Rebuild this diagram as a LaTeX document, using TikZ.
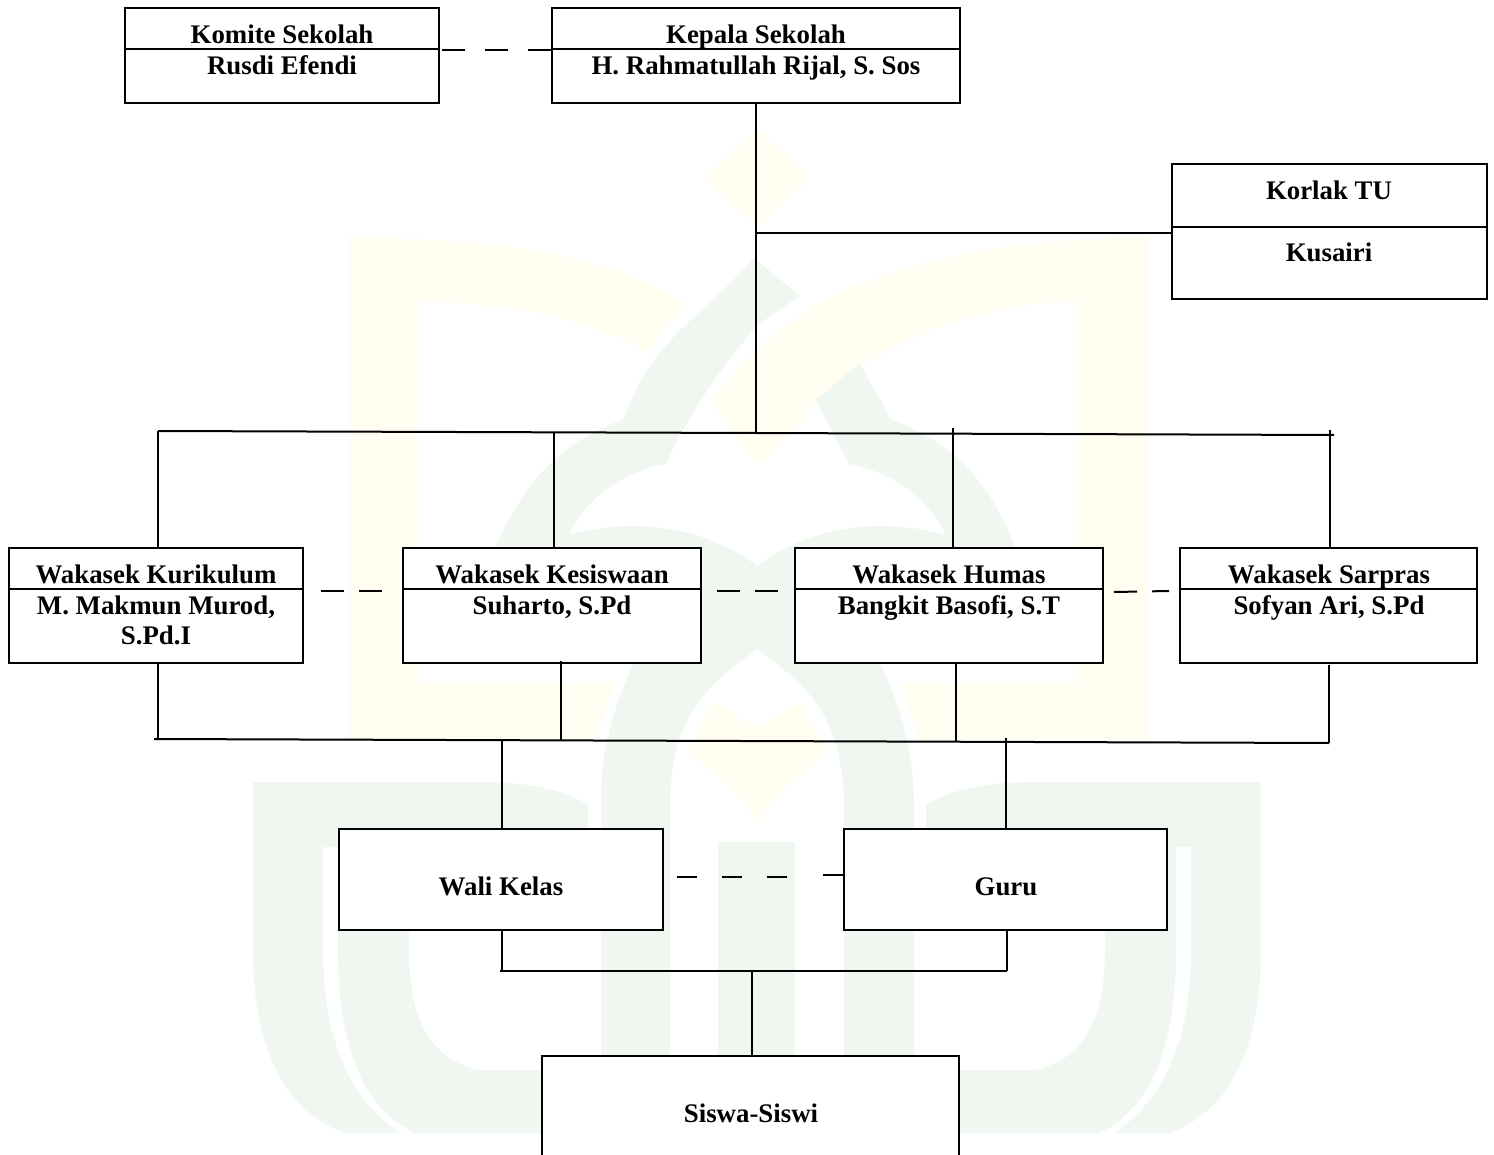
\documentclass[tikz,border=0pt]{standalone}
\usepackage{fontspec}
\setmainfont{Liberation Serif}
\definecolor{wmyellow}{HTML}{FFFEF0}
\definecolor{wmgreen}{HTML}{F0F7F1}
\tikzset{
  boxnode/.style={draw=black,fill=white,line width=1.05pt,inner sep=0pt,outer sep=0pt},
  txt/.style={anchor=base,inner sep=0pt,outer sep=0pt,font=\fontsize{13.42}{16}\selectfont\bfseries},
  conn/.style={draw=black,line width=1pt},
  dashconn/.style={draw=black,line width=1pt,dash pattern=on 11.5pt off 10pt},
  dashwaka/.style={draw=black,line width=1pt,dash pattern=on 11.5pt off 7.5pt},
  dashwali/.style={draw=black,line width=1pt,dash pattern=on 10pt off 12.5pt},
  divider/.style={draw=black,line width=1.05pt}
}
\newcommand{\wbox}[5]{%
  \pgfmathsetmacro{\wbw}{(#4-#2)*0.5}%
  \pgfmathsetmacro{\wbh}{(#5-#3)*0.5}%
  \node[boxnode,minimum width=\wbw pt,minimum height=\wbh pt] (#1) at ({(#2+#4)/2},{(#3+#5)/2}) {};%
}
\begin{document}
\begin{tikzpicture}[x=0.5pt,y=-0.5pt]
\useasboundingbox (0,0) rectangle (1494,1155);
\clip (0,0) rectangle (1494,1155);
\fill[white] (0,0) rectangle (1494,1155);
% watermark: yellow
\fill[wmyellow] (757,129) -- (810,178) -- (757,227) -- (704,178) -- cycle;
\fill[wmyellow] (349,238) .. controls (480,238) and (600,250) .. (685,303) -- (647,352)
  .. controls (580,315) and (500,302) .. (418,302) -- (418,683) -- (614,683) -- (595,740) -- (349,740) -- cycle;
\fill[wmyellow] (1147,238) .. controls (980,238) and (800,270) .. (712,401) -- (757,465) -- (800,425)
  .. controls (820,380) and (940,302) .. (1078,302) -- (1078,683) -- (900,683) -- (920,740) -- (1147,740) -- cycle;
\fill[wmyellow] (712,702) -- (757,727) -- (800,702) -- (828,753) .. controls (790,780) and (770,800) .. (757,823)
  .. controls (745,800) and (725,780) .. (687,753) -- cycle;
% watermark: green arches
\fill[wmgreen] (754,258) -- (800,296) -- (757,325) .. controls (720,370) and (690,410) .. (666,464)
  .. controls (620,472) and (585,500) .. (569,535) .. controls (640,515) and (710,530) .. (757,566)
  -- (757,649) .. controls (700,690) and (673,720) .. (670,800) -- (670,1133) -- (601,1133) -- (601,800)
  .. controls (601,740) and (620,690) .. (640,650) -- (497,600) -- (497,544)
  .. controls (530,470) and (570,440) .. (624,419) .. controls (650,340) and (700,320) .. (754,258) -- cycle;
\fill[wmgreen] (860,363) -- (816,400) -- (849,464) .. controls (894,472) and (929,500) .. (946,535)
  .. controls (874,515) and (804,530) .. (757,566) -- (757,649) .. controls (814,690) and (841,720) .. (844,800)
  -- (844,1133) -- (914,1133) -- (914,800) .. controls (913,740) and (894,690) .. (874,650) -- (1017,600) -- (1014,544)
  .. controls (984,470) and (944,440) .. (890,419) .. controls (880,395) and (870,385) .. (860,363) -- cycle;
\fill[wmgreen] (718,842) rectangle (795,1133);
% watermark: green U bands
\foreach \sh/\sc in {0/1,1514/-1}{
\begin{scope}[shift={(\sh,0)},xscale=\sc]
\fill[wmgreen] (253,782) -- (478,782) .. controls (530,782) and (565,790) .. (588,805) -- (588,847) -- (323,847)
  -- (323,950) .. controls (323,1040) and (350,1100) .. (400,1133) -- (345,1133) .. controls (280,1110) and (253,1040) .. (253,950) -- cycle;
\fill[wmgreen] (338,847) -- (338,950) .. controls (338,1050) and (365,1110) .. (415,1133) -- (601,1133) -- (601,1070) -- (480,1070)
  .. controls (430,1060) and (409,1020) .. (409,950) -- (409,847) -- cycle;
\end{scope}}
% boxes
\wbox{komite}{125}{8}{439}{103}
\wbox{kepala}{552}{8}{960}{103}
\wbox{korlak}{1172}{164}{1487}{299}
\wbox{kurikulum}{9}{548}{303}{663}
\wbox{kesiswaan}{403}{548}{701}{663}
\wbox{humas}{795}{548}{1103}{663}
\wbox{sarpras}{1180}{548}{1477}{663}
\wbox{wali}{339}{829}{663}{930}
\wbox{guru}{844}{829}{1167}{930}
\wbox{siswa}{542}{1056}{959}{1185}
% dividers
\draw[divider] (komite.west |- 0,49) -- (komite.east |- 0,49);
\draw[divider] (kepala.west |- 0,49) -- (kepala.east |- 0,49);
\draw[divider] (korlak.west |- 0,227) -- (korlak.east |- 0,227);
\draw[divider] (kurikulum.west |- 0,589) -- (kurikulum.east |- 0,589);
\draw[divider] (kesiswaan.west |- 0,589) -- (kesiswaan.east |- 0,589);
\draw[divider] (humas.west |- 0,589) -- (humas.east |- 0,589);
\draw[divider] (sarpras.west |- 0,589) -- (sarpras.east |- 0,589);
% texts
\node[txt] (komiteA) at (282,44) {Komite Sekolah};
\node[txt] (komiteB) at (282,75) {Rusdi Efendi};
\node[txt] (kepalaA) at (756,44) {Kepala Sekolah};
\node[txt] (kepalaB) at (756,75) {H. Rahmatullah Rijal, S. Sos};
\node[txt] (korlakA) at (1329,200) {Korlak TU};
\node[txt] (korlakB) at (1329,262) {Kusairi};
\node[txt] (kurA) at (156,583) {Wakasek Kurikulum};
\node[txt] (kurB) at (156,614) {M. Makmun Murod,};
\node[txt] (kurC) at (156,644) {S.Pd.I};
\node[txt] (kesA) at (552,583) {Wakasek Kesiswaan};
\node[txt] (kesB) at (552,614) {Suharto, S.Pd};
\node[txt] (humA) at (949,583) {Wakasek Humas};
\node[txt] (humB) at (949,614) {Bangkit Basofi, S.T};
\node[txt] (sarA) at (1329,583) {Wakasek Sarpras};
\node[txt] (sarB) at (1329,614) {Sofyan Ari, S.Pd};
\node[txt] (waliT) at (501,895) {Wali Kelas};
\node[txt] (guruT) at (1006,895) {Guru};
\node[txt] (siswaT) at (751,1122) {Siswa-Siswi};
% bus coordinates
\coordinate (topL) at (158,431);
\coordinate (topR) at (1334,435);
\coordinate (topC) at (756,433);
\coordinate (top2) at (554,433);
\coordinate (top3) at (953,428);
\coordinate (top4) at (1330,430);
\coordinate (botL) at (154,739);
\coordinate (botR) at (1329,743);
\coordinate (bot1) at (158,739);
\coordinate (bot2) at (561,741);
\coordinate (bot3) at (956,742);
\coordinate (dn1) at (502,740);
\coordinate (dn2) at (1006,738);
\coordinate (lowL) at (500,971);
\coordinate (lowR) at (1007,971);
\coordinate (lowC) at (752,971);
\coordinate (lowW) at (502,971);
\coordinate (korj) at (756,233);
\coordinate (kesS) at (561,661);
\coordinate (sarS) at (1329,665);
% connectors
\draw[conn] (kepala.south) -- (topC);
\draw[conn] (korj) -- (korj -| korlak.west);
\draw[conn] (topL) -- (topC) -- (topR);
\draw[conn] (topL) -- (topL |- kurikulum.north);
\draw[conn] (top2) -- (top2 |- kesiswaan.north);
\draw[conn] (top3) -- (top3 |- humas.north);
\draw[conn] (top4) -- (top4 |- sarpras.north);
\draw[conn] (botL) -- (botR);
\draw[conn] (bot1) -- (bot1 |- kurikulum.south);
\draw[conn] (bot2) -- (kesS);
\draw[conn] (bot3) -- (bot3 |- humas.south);
\draw[conn] (botR) -- (sarS);
\draw[conn] (dn1) -- (dn1 |- wali.north);
\draw[conn] (dn2) -- (dn2 |- guru.north);
\draw[conn] (lowL) -- (lowR);
\draw[conn] (lowW) -- (lowW |- wali.south);
\draw[conn] (lowR) -- (lowR |- guru.south);
\draw[conn] (lowC) -- (lowC |- siswa.north);
% dashed links
\coordinate (dA) at (442,50);
\draw[dashconn] (dA) -- (dA -| kepala.west);
\coordinate (dB1) at (321,591);
\coordinate (dB2) at (382,591);
\draw[dashwaka] (dB1) -- (dB2);
\coordinate (dC1) at (717,591);
\coordinate (dC2) at (778,591);
\draw[dashwaka] (dC1) -- (dC2);
\coordinate (dD1) at (1114,592);
\coordinate (dD2) at (1169,591);
\draw[dashwaka] (dD1) -- (dD2);
\coordinate (dE1) at (677,877);
\coordinate (dE2) at (793,877);
\draw[dashwali] (dE1) -- (dE2);
\coordinate (dE3) at (823,875);
\draw[conn] (dE3) -- (dE3 -| guru.west);
\end{tikzpicture}
\end{document}
